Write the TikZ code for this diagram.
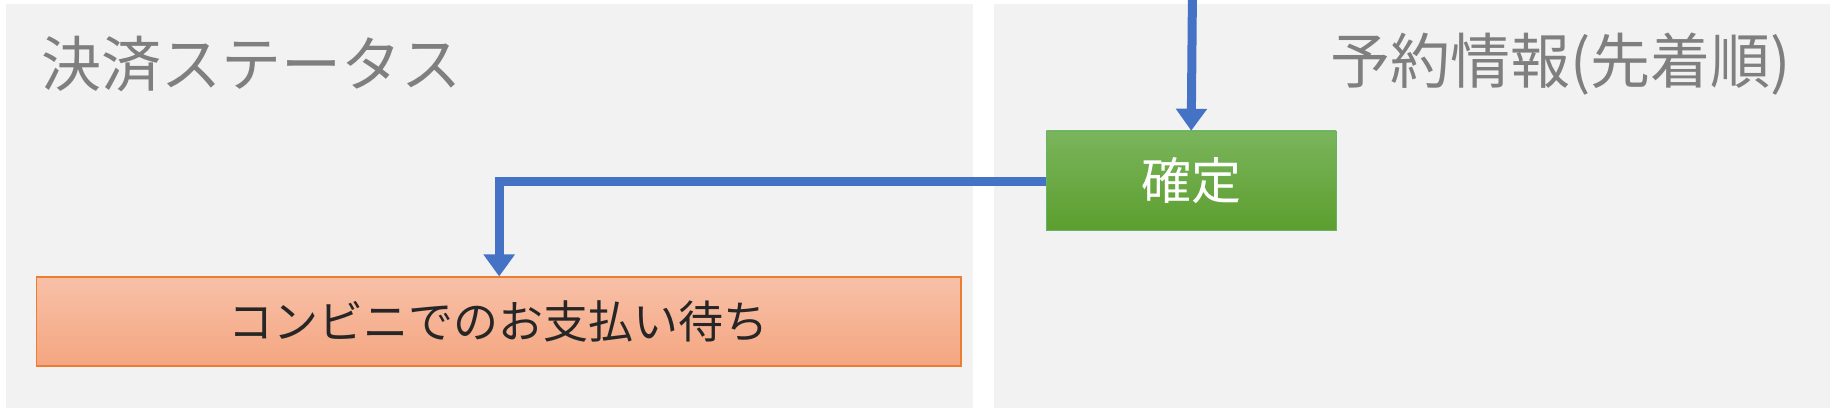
\documentclass[tikz,border=0pt]{standalone}
\usepackage{fontspec}
\newfontfamily\cjk{Noto Sans CJK JP}
\usetikzlibrary{arrows.meta}
\definecolor{panel}{HTML}{F2F2F2}
\definecolor{ttl}{HTML}{7F7F7F}
\definecolor{blu}{HTML}{4472C4}
\begin{document}
\begin{tikzpicture}[x=1.169pt,y=-1.169pt,
  ttlstyle/.style={text=ttl,font=\cjk\fontsize{60}{62}\selectfont,inner sep=0pt},
  conn/.style={draw=blu,line width=9pt,-{Triangle[length=22pt,width=30pt]}}]
\useasboundingbox (0,0) rectangle (1568,349);
\fill[white] (0,0) rectangle (1568,349);
\fill[panel] (5,3) rectangle (832,349);
\fill[panel] (850,3) rectangle (1565,349);
\node[ttlstyle,anchor=west] (t1) at (35,55) {決済ステータス};
\node[ttlstyle,anchor=east] (t2) at (1532,55) {予約情報(先着順)};
\coordinate (top) at (1020,0);
\node[draw=green!50!black!60,top color=green!45!black!30!white,bottom color=green!45!black!70!white,
  shade,top color={rgb,255:red,122;green,181;blue,92},bottom color={rgb,255:red,92;green,158;blue,46},
  minimum width=248*1.169pt,minimum height=85*1.169pt,text=white,font=\cjk\fontsize{50}{52}\selectfont,inner sep=0pt]
  (g) at (1019,154.5) {確定};
\node[draw={rgb,255:red,237;green,125;blue,49},line width=1.2pt,
  top color={rgb,255:red,248;green,192;blue,168},bottom color={rgb,255:red,244;green,166;blue,128},
  minimum width=791*1.169pt,minimum height=76*1.169pt,text=black!85,font=\cjk\fontsize{45}{47}\selectfont,inner sep=0pt]
  (o) at (426.5,275) {コンビニでのお支払い待ち};
\draw[conn] (top) -- (g.north);
\draw[conn] (g.west |- 0,155) -- (427,155) -- (o.north -| 427,0);
\end{tikzpicture}
\end{document}
